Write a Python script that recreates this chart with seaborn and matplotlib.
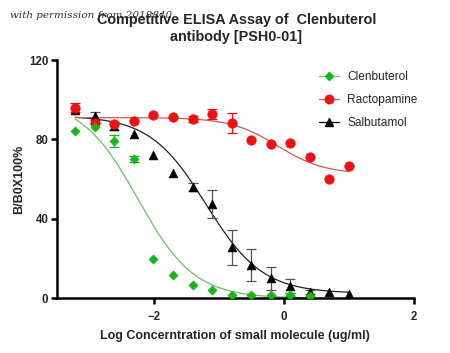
import numpy as np
import matplotlib
matplotlib.use("Agg")
import matplotlib.pyplot as plt
import seaborn as sns
from matplotlib.lines import Line2D

# ---------------------------------------------------------------------------
# Data
# ---------------------------------------------------------------------------
log_conc = [-3.214, -2.913, -2.612, -2.311, -2.010, -1.709, -1.408, -1.107,
            -0.806, -0.505, -0.204, 0.097, 0.398, 0.699, 1.000]

clen_y = [84.3, 86.4, 79.2, 70.2, 19.8, 11.6, 6.5, 4.2, 1.7, 1.7, 1.7, 1.7, 1.3]
clen_err = [0, 0, 3.2, 1.6, 0, 0, 0, 0, 0, 0, 0, 0.8, 0]

ract_y = [96.0, 88.2, 87.8, 89.3, 92.1, 91.2, 90.2, 92.7, 88.3, 79.5, 77.7,
          78.1, 71.3, 60.0, 66.6]
ract_err = [2.3, 0, 0, 0, 0, 0, 1.5, 2.5, 4.9, 0, 0, 0, 0, 0, 0]

salb_y = [95.0, 92.0, 87.0, 82.8, 72.2, 63.2, 56.2, 47.4, 25.7, 16.8, 10.1,
          6.2, 3.3, 3.0, 2.0]
salb_err = [0, 2.0, 2.0, 0, 0, 0, 2.0, 7.1, 8.8, 8.1, 5.9, 3.5, 1.0, 0, 0]

# 4PL fit parameters: top, bottom, logEC50, hill
clen_fit = [100.0, 0.0, -2.25, 1.0]
ract_fit = [91.0, 62.5, -0.10, 1.2]
salb_fit = [92.0, 2.5, -1.20, 1.0]

series = ["Clenbuterol", "Ractopamine", "Salbutamol"]

# ---------------------------------------------------------------------------
# Style
# ---------------------------------------------------------------------------
sns.set_theme(style="ticks")
plt.rcParams["font.family"] = ["Liberation Sans", "DejaVu Sans"]
plt.rcParams["font.weight"] = "bold"

styles = {
    "Clenbuterol": dict(color="#19b419", line="#6cbf6c", marker="D", ms=4.6),
    "Ractopamine": dict(color="#ee1111", line="#d95555", marker="o", ms=6.8),
    "Salbutamol": dict(color="#000000", line="#222222", marker="^", ms=6.3),
}


def four_pl(x, top, bottom, c, h):
    return bottom + (top - bottom) / (1 + 10 ** ((x - c) * h))


fig = plt.figure(figsize=(4.5, 3.53), dpi=100)
ax = fig.add_axes([0.126, 0.155, 0.794, 0.675])

data = {
    "Salbutamol": (log_conc, salb_y, salb_err, salb_fit),
    "Ractopamine": (log_conc, ract_y, ract_err, ract_fit),
    "Clenbuterol": (log_conc[:len(clen_y)], clen_y, clen_err, clen_fit),
}

# ── fitted curves ───────────────────────────────────────────────────────
for name in ["Salbutamol", "Ractopamine", "Clenbuterol"]:
    x, y, err, fit = data[name]
    st = styles[name]
    xs = np.linspace(min(x), max(x), 200)
    sns.lineplot(x=xs, y=four_pl(xs, *fit), color=st["line"], lw=0.9,
                 ax=ax, zorder=2)

# ── points with error bars ──────────────────────────────────────────────
for name in ["Salbutamol", "Ractopamine", "Clenbuterol"]:
    x, y, err, fit = data[name]
    st = styles[name]
    ecol = "#555555" if name == "Salbutamol" else st["color"]
    xe = [xi for xi, e in zip(x, err) if e > 0]
    ye = [yi for yi, e in zip(y, err) if e > 0]
    ee = [e for e in err if e > 0]
    ax.errorbar(xe, ye, yerr=ee, fmt="none", ecolor=ecol, elinewidth=0.9,
                capsize=3.5, capthick=0.9, zorder=3)
    sns.scatterplot(x=x, y=y, marker=st["marker"], color=st["color"],
                    s=st["ms"] ** 2, edgecolor=st["color"], linewidth=0.5,
                    ax=ax, zorder=4, legend=False)

ax.set_xlim(-3.5, 2)
ax.set_ylim(0, 120)
ax.set_xticks([-2, 0, 2])
ax.set_yticks([0, 40, 80, 120])
ax.tick_params(axis="both", width=1.8, length=4, labelsize=8.3, color="black")
ax.tick_params(axis="x", pad=5)
ax.tick_params(axis="y", pad=2)
for lab in ax.get_xticklabels() + ax.get_yticklabels():
    lab.set_fontweight("bold")
for sp in ["left", "bottom"]:
    ax.spines[sp].set_linewidth(1.8)
    ax.spines[sp].set_color("black")
sns.despine(ax=ax)

ax.set_xlabel("Log Concerntration of small molecule (ug/ml)", fontsize=9,
              fontweight="bold", labelpad=5)
ax.set_ylabel("B/B0X100%", fontsize=9, fontweight="bold", labelpad=3)

handles = [Line2D([0], [0], color=styles[n]["line"] if n != "Salbutamol" else "black",
                  lw=0.9, marker=styles[n]["marker"], markersize=styles[n]["ms"] * 0.9,
                  markerfacecolor=styles[n]["color"], markeredgecolor=styles[n]["color"])
           for n in series]
leg = ax.legend(handles, series, loc="upper left", bbox_to_anchor=(0.72, 0.975),
                frameon=False, fontsize=8.6, handlelength=1.7, handletextpad=0.7,
                labelspacing=0.95, borderaxespad=0)
for t in leg.get_texts():
    t.set_fontweight("normal")

fig.text(0.022, 0.955, "with permission from 2018840", fontsize=7.5,
         family="DejaVu Serif", style="italic", fontweight="normal",
         color="#333333", va="center", ha="left", zorder=1)
fig.text(0.525, 0.962, "Competitive ELISA Assay of  Clenbuterol\nantibody [PSH0-01]",
         fontsize=10.4, fontweight="bold", ha="center", va="top",
         linespacing=1.22, zorder=5)

fig.savefig("out.png", dpi=100)
